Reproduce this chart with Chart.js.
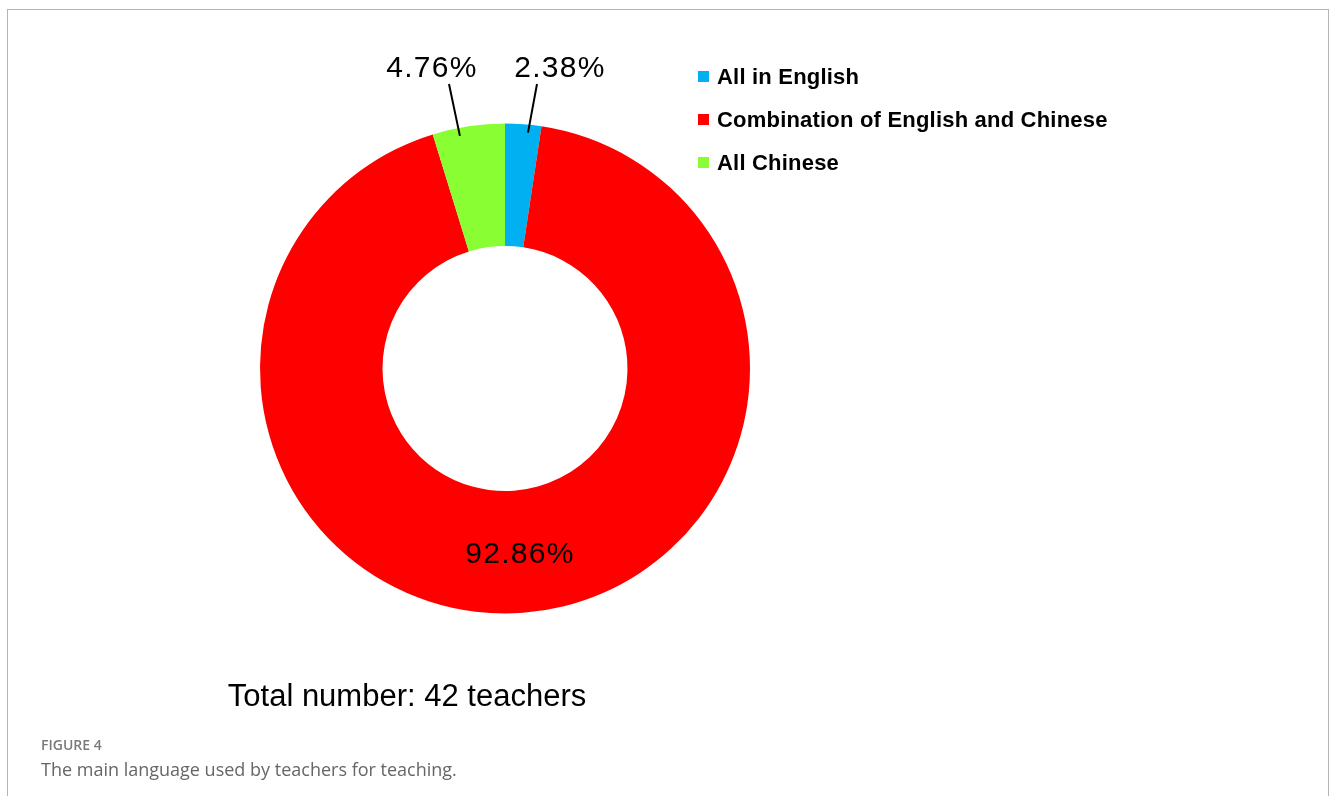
<!DOCTYPE html>
<html>
<head>
<meta charset="utf-8">
<title>Figure 4</title>
<script src="https://cdn.jsdelivr.net/npm/chart.js@4.4.1/dist/chart.umd.min.js"></script>
<style>
    html, body {
        margin: 0;
        padding: 0;
        background: #ffffff;
        width: 1331px;
        height: 796px;
        overflow: hidden;
    }
    .frame {
        position: absolute;
        left: 7px;
        top: 9px;
        width: 1320px;
        height: 800px;
        border: 1.5px solid #b4b4b4;
        border-bottom: none;
    }
    #js--languagechart {
        position: absolute;
        left: 0;
        top: 0;
    }
    .caption-label {
        position: absolute;
        left: 41px;
        top: 735px;
        font-family: "Open Sans", sans-serif;
        font-weight: 600;
        font-size: 14px;
        color: #7a7a7a;
    }
    .caption-text {
        position: absolute;
        left: 41px;
        top: 757px;
        font-family: "Open Sans", sans-serif;
        font-size: 18px;
        color: #666666;
    }
</style>
</head>
<body>
<div class="frame"></div>
<canvas id="js--languagechart" width="1331" height="796"></canvas>
<div class="caption-label">FIGURE 4</div>
<div class="caption-text">The main language used by teachers for teaching.</div>

<script>
const languages = ["All in English", "Combination of English and Chinese", "All Chinese"];
const teacherCounts = [1, 39, 2];
const percentLabels = ["2.38%", "92.86%", "4.76%"];
const sliceColors = ["#00B0F0", "#FF0000", "#89FF33"];
const totalText = "Total number: 42 teachers";

// labels, leader lines, legend and total drawn on top of the doughnut
const annotatePlugin = {
    id: "annotate",
    afterDraw(chart) {
        const ctx = chart.ctx;
        const arcs = chart.getDatasetMeta(0).data;
        ctx.save();

        // where each leader line touches its slice (fraction along the slice)
        const anchor = (arc, frac) => {
            const a = arc.startAngle + (arc.endAngle - arc.startAngle) * frac;
            const r = arc.outerRadius - 8;
            return { x: arc.x + Math.cos(a) * r, y: arc.y + Math.sin(a) * r };
        };

        ctx.font = "30px 'Liberation Sans', Arial, sans-serif";
        ctx.fillStyle = "#000000";
        ctx.textAlign = "center";
        ctx.textBaseline = "alphabetic";
        ctx.letterSpacing = "1.3px";

        // small slices: label above, with a leader line
        const blue = anchor(arcs[0], 0.65);
        const green = anchor(arcs[2], 0.36);
        ctx.strokeStyle = "#000000";
        ctx.lineWidth = 2;
        ctx.beginPath();
        ctx.moveTo(537, 84);
        ctx.lineTo(blue.x, blue.y);
        ctx.moveTo(449, 84);
        ctx.lineTo(green.x, green.y);
        ctx.stroke();

        ctx.fillText(percentLabels[0], 560, 77);
        ctx.fillText(percentLabels[2], 432, 77);

        // big slice label inside the ring
        ctx.fillText(percentLabels[1], 520, 563);

        // total
        ctx.letterSpacing = "0px";
        ctx.font = "31px 'Liberation Sans', Arial, sans-serif";
        ctx.fillText(totalText, 407, 706);

        // legend
        ctx.textAlign = "left";
        ctx.textBaseline = "middle";
        ctx.font = "bold 22px 'Liberation Sans', Arial, sans-serif";
        ctx.letterSpacing = "0.2px";
        languages.forEach((name, i) => {
            const y = 77 + i * 43;
            ctx.fillStyle = sliceColors[i];
            ctx.fillRect(698, y - 6, 11, 11);
            ctx.fillStyle = "#000000";
            ctx.fillText(name, 717, y + 1);
        });

        ctx.restore();
    }
};

const languageData = {
    labels: languages,
    datasets: [{
        data: teacherCounts,
        backgroundColor: sliceColors,
        borderWidth: 0
    }]
};

const config = {
    type: "doughnut",
    data: languageData,
    options: {
        responsive: false,
        animation: false,
        cutout: "50%",
        rotation: 0,
        layout: {
            padding: { left: 260, top: 123, right: 581, bottom: 182 }
        },
        plugins: {
            legend: { display: false },
            tooltip: { enabled: false }
        }
    },
    plugins: [annotatePlugin]
};

const languageChart = new Chart(document.getElementById("js--languagechart"), config);
</script>
</body>
</html>
